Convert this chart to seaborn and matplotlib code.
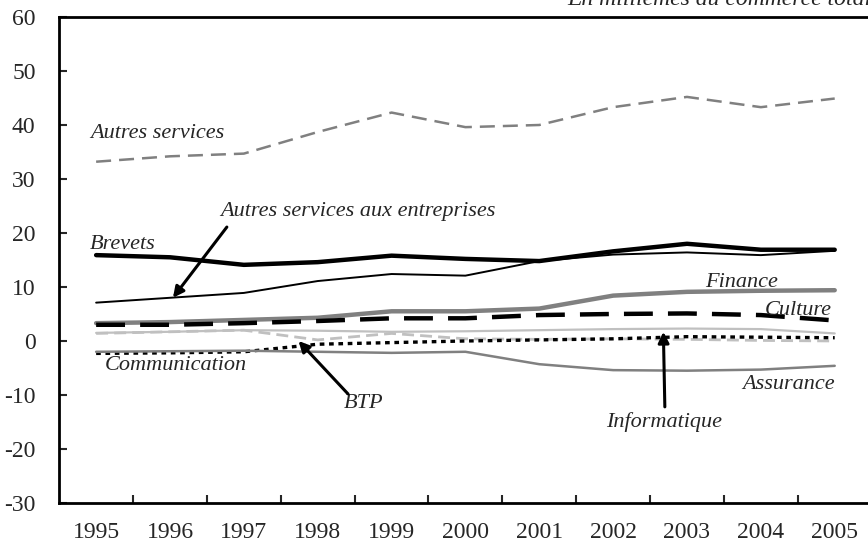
import numpy as np
import pandas as pd
import matplotlib
matplotlib.use("Agg")
import matplotlib.pyplot as plt
import seaborn as sns

# values (en millièmes du commerce total)
years = [1995, 1996, 1997, 1998, 1999, 2000, 2001, 2002, 2003, 2004, 2005]
autres_services = [33.2, 34.2, 34.7, 38.7, 42.3, 39.6, 40.0, 43.3, 45.2, 43.3, 44.9]
brevets = [15.9, 15.5, 14.1, 14.6, 15.8, 15.2, 14.8, 16.6, 18.0, 16.9, 16.9]
autres_serv_entreprises = [7.1, 8.0, 8.9, 11.1, 12.4, 12.1, 14.8, 16.0, 16.4, 15.9, 16.7]
finance = [3.3, 3.5, 3.9, 4.3, 5.5, 5.5, 6.0, 8.4, 9.1, 9.3, 9.4]
culture = [3.0, 3.0, 3.3, 3.7, 4.2, 4.2, 4.8, 5.0, 5.1, 4.8, 3.8]
informatique = [1.5, 1.7, 2.0, 1.9, 1.7, 1.8, 2.0, 2.2, 2.3, 2.2, 1.4]
btp = [1.4, 1.7, 2.0, 0.2, 1.4, 0.4, 0.3, 0.4, 0.3, 0.1, 0.0]
communication = [-2.3, -2.2, -2.0, -0.6, -0.3, 0.0, 0.2, 0.4, 0.8, 0.7, 0.6]
assurance = [-2.0, -1.9, -1.8, -2.0, -2.2, -2.0, -4.3, -5.4, -5.5, -5.3, -4.6]

series = {
    "Autres services": autres_services,
    "Brevets": brevets,
    "Autres services aux entreprises": autres_serv_entreprises,
    "Finance": finance,
    "Culture": culture,
    "Informatique": informatique,
    "BTP": btp,
    "Communication": communication,
    "Assurance": assurance,
}

# line styles: colour, width, dash pattern
styles = {
    "Autres services": ("#808080", 1.8, (0, (6, 3.2))),
    "Brevets": ("black", 3.2, "-"),
    "Autres services aux entreprises": ("black", 1.4, "-"),
    "Finance": ("#808080", 3.2, "-"),
    "Culture": ("black", 3.2, (0, (6.5, 3.4))),
    "Informatique": ("#c0c0c0", 1.6, "-"),
    "BTP": ("#c0c0c0", 2.0, (0, (4.3, 2.2))),
    "Communication": ("black", 2.4, (0, (1.4, 1.4))),
    "Assurance": ("#808080", 1.8, "-"),
}

df = pd.DataFrame({"year": years, **series})

sns.set_style("white")
plt.rcParams["font.family"] = ["Liberation Serif", "DejaVu Serif"]
plt.rcParams["axes.unicode_minus"] = False

fig = plt.figure(figsize=(8.68, 5.5), dpi=100)
ax = fig.add_axes([0.0682, 0.0855, 0.936, 0.8836])

for name, (color, lw, ls) in styles.items():
    sns.lineplot(data=df, x="year", y=name, ax=ax, color=color,
                 linewidth=lw, linestyle=ls, solid_joinstyle="round")

ax.set_xlim(1994.5, 2005.5)
ax.set_ylim(-30, 60)
ax.set_xlabel("")
ax.set_ylabel("")

ax.set_xticks(years)
ax.set_xticklabels([str(y) for y in years])
ax.set_xticks(np.array(years[:-1]) + 0.5, minor=True)
ax.set_yticks(range(-30, 61, 10))
ax.tick_params(axis="x", which="major", length=0, pad=14, labelsize=17)
ax.tick_params(axis="x", which="minor", direction="in", length=6, width=1.5,
               bottom=True)
ax.tick_params(axis="y", direction="in", length=6, width=1.5, left=True,
               pad=17, labelsize=17)

for side in ["left", "bottom", "top", "right"]:
    ax.spines[side].set_color("black")
    ax.spines[side].set_linewidth(2)

lab = dict(fontsize=16, style="italic", va="center", ha="left")
ax.text(1994.92, 38.5, "Autres services", **lab)
ax.text(1996.68, 23.9, "Autres services aux entreprises", **lab)
ax.text(1994.92, 17.8, "Brevets", **lab)
ax.text(2003.25, 10.9, "Finance", **lab)
ax.text(2004.05, 5.7, "Culture", **lab)
ax.text(2003.75, -8.0, "Assurance", **lab)
ax.text(1995.12, -4.6, "Communication", **lab)
ax.text(1998.35, -11.5, "BTP", **lab)
ax.text(2001.90, -15.0, "Informatique", **lab)

arrow = dict(arrowstyle="-|>", color="black", lw=2.2, mutation_scale=16,
             shrinkA=0, shrinkB=0)
ax.annotate("", xy=(1996.04, 8.0), xytext=(1996.77, 21.1), arrowprops=arrow)
ax.annotate("", xy=(1997.74, 0.0), xytext=(1998.41, -9.8), arrowprops=arrow)
ax.annotate("", xy=(2002.68, 1.7), xytext=(2002.70, -12.2), arrowprops=arrow)

fig.text(567 / 868, 1 - 5 / 550, "En millièmes du commerce total",
         fontsize=17, style="italic", ha="left", va="baseline")

fig.savefig("out.png", dpi=100)
